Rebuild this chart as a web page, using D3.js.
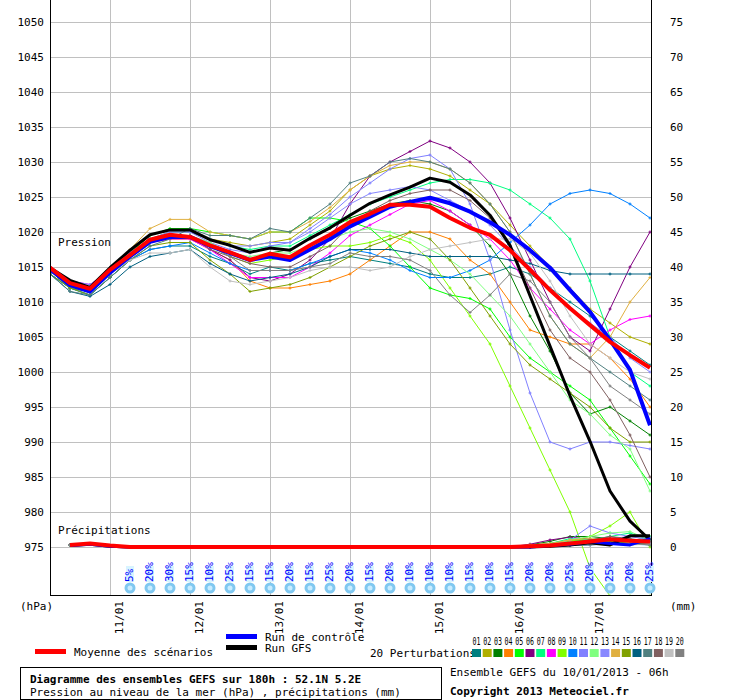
<!DOCTYPE html>
<html><head><meta charset="utf-8">
<script src="https://cdn.jsdelivr.net/npm/d3@7"></script>
<style>
body{margin:0;background:#fff}
text{font-family:"DejaVu Sans Mono",monospace;font-size:11px}
</style></head><body>
<script>
// 31 steps of 6h, from 10/01 06h to 17/01 18h
var dayTicks = ["11/01","12/01","13/01","14/01","15/01","16/01","17/01"];
var dayIndex = [3,7,11,15,19,23,27];

var meanP = [1014.9,1012.7,1011.9,1014.6,1016.7,1018.9,1019.6,1019.3,1018.1,1017.1,1016,1016.9,1016.4,1018.1,1019.6,1021.4,1022.6,1023.9,1023.9,1023.6,1022,1020.6,1019.6,1017.4,1014.6,1011.7,1009.1,1006.7,1004.3,1002.4,1000.6];
var ctrlP = [1014.7,1012.4,1011.5,1014.2,1016.5,1018.6,1019.3,1019.3,1018,1017,1016,1016.5,1016,1017.5,1019,1020.8,1022.2,1023.6,1024.3,1024.9,1024.1,1022.9,1021.4,1019.6,1017.4,1014.9,1011.7,1008.6,1004.6,1000.3,992.4];
var gfsP = [1014.9,1013.1,1012.1,1014.9,1017.4,1019.6,1020.3,1020.3,1018.9,1018.1,1017.1,1017.7,1017.4,1019.1,1020.6,1022.4,1024.1,1025.3,1026.4,1027.7,1027.1,1025.3,1022.4,1018.1,1010.9,1003.7,996.6,990.1,983,978.7,976];
var meanR = [null,0.3,0.5,0.2,0,0,0,0,0,0,0,0,0,0,0,0,0,0,0,0,0,0,0,0,0.1,0.2,0.5,0.8,1.1,0.9,0.8];
var ctrlR = [null,0.2,0.4,0.1,0,0,0,0,0,0,0,0,0,0,0,0,0,0,0,0,0,0,0,0,0,0.2,0.4,0.8,0.5,0.3,1.2];
var gfsR  = [null,0.2,0.4,0.1,0,0,0,0,0,0,0,0,0,0,0,0,0,0,0,0,0,0,0,0,0,0.1,0.3,0.6,0.3,1.6,1.6];

var pertColors = ["#008080","#b0b000","#008000","#ff8000","#00ff00","#800080","#00ff80","#ff00ff","#80ff00","#0080ff",
                  "#8080ff","#80ff80","#8888ff","#e0b040","#80a000","#006080","#508080","#806060","#c0c0c0","#808080"];
var pertP = [
 [1014,1012,1011,1013.5,1016,1017.5,1018,1018,1016.5,1015.5,1014, 1015,1014.5,1015.5,1016,1016.5, 1016,1015.5,1015,1014, 1013.5,1013.5,1014,1015, 1014,1012,1010,1008,1005,1003,1001],
 [1014.5,1012.5,1012,1014,1017,1019,1020,1020,1019,1018.5,1018, 1018.5,1019,1021,1023,1026, 1028,1029,1029.5,1029, 1028,1026,1024,1021, 1018,1015,1012,1009,1007,1005,1004],
 [1014.5,1012,1011.5,1014,1016.5,1018.5,1019.5,1019.5,1018,1017,1016, 1017,1017.5,1019,1020.5,1022, 1023,1024,1024.5,1024, 1023,1021,1018,1014, 1008,1003,997,994,995,993,991],
 [1014.5,1012.5,1011.5,1014,1016.5,1018.5,1019,1019,1017.5,1016,1013, 1012,1012,1012.5,1013,1014, 1016,1018,1020,1020, 1019,1016,1014,1010, 1006,1005,1004,1004,1002,999,995],
 [1015,1012.5,1012,1014.5,1017,1019.5,1020.5,1020.5,1020,1019.5,1019, 1020,1020,1022,1022,1021.5, 1020.5,1018,1015,1012, 1011,1010.5,1009,1005, 1002,1000,998,996,992,988,984],
 [1014.5,1012,1011.5,1014,1016.5,1018.5,1019.5,1019.5,1017.5,1016,1013.5, 1013,1014,1016,1019,1024, 1028,1030,1031.5,1033, 1032,1030,1027,1022, 1016,1010,1005,1003,1009,1015,1020],
 [1014.5,1012.5,1012,1014.5,1017,1019,1020,1020,1019,1018,1017.5, 1018,1018,1019.5,1021,1022.5, 1024,1025,1026,1027, 1027.5,1027.5,1027,1026, 1024,1022,1019,1013,1005,1000,998],
 [1015,1013,1012.5,1014.5,1017,1018.5,1019,1019,1017.5,1015.5,1013.5, 1013.5,1013.5,1015,1017,1019.5, 1021,1022.5,1024,1024.5, 1023,1021,1019,1016, 1012,1009,1006,1004,1006,1007.5,1008],
 [1014.5,1012,1011.5,1014,1016.5,1018.5,1019.5,1019.5,1018,1016.5,1015.5, 1016,1016.5,1017.5,1018,1018, 1018.5,1019.5,1018.5,1016, 1012,1008,1004,998, 992,986,980,972,968,968,968],
 [1014,1012,1011,1013.5,1016,1017.5,1018,1018.5,1017,1015.5,1014.5, 1014.5,1014.5,1015.5,1016.5,1017.5, 1017,1016,1014.5,1013.5, 1013.5,1014.5,1016,1018.5, 1021,1024,1025.5,1026,1025.5,1024,1022],
 [1015,1013,1012.5,1014.5,1017,1019,1020,1020,1018.5,1017.5,1017, 1018,1018.5,1020.5,1022.5,1025, 1027,1029,1030.5,1031, 1029,1024,1016,1006, 997,990,989,990,990,989.5,989],
 [1014.5,1012.5,1012,1014,1016.5,1018.5,1019.5,1019.5,1018.5,1017,1016.5, 1017,1017,1018,1019,1020, 1020.5,1020,1019,1017.5, 1016,1014,1011,1008, 1004,1000,996,994,991,989,983],
 [1014.5,1012.5,1012,1014,1017,1019,1020,1020,1019,1018,1018, 1018.5,1018.5,1020,1022,1024, 1025.5,1026,1026.5,1026, 1024.5,1023,1021,1018, 1015,1012,1009,1007,1005,1002,1000],
 [1014.5,1012.5,1012,1014.5,1017.5,1020.5,1021.8,1021.8,1020,1019.5,1019, 1020,1020,1021.5,1023.5,1026, 1028,1029.5,1030,1030, 1029,1027,1024,1020, 1014,1008,1004,1002,1005,1010,1013.5],
 [1014,1012,1011,1013.5,1016,1018,1018.5,1018.5,1016,1014,1011.5, 1012,1012.5,1013.5,1015,1016.5, 1018,1019,1020,1019, 1016,1012,1008,1004, 1001,999,997,995,992,990,990],
 [1014,1011.5,1010.8,1012.5,1015,1016.5,1017,1017.5,1015.5,1014,1013, 1013.5,1014,1015,1016.5,1017.5, 1017.5,1017.5,1017,1016.5, 1016.5,1016.5,1016.5,1016, 1015.5,1014.5,1014,1014,1014,1014,1014],
 [1014,1011.5,1011,1013.5,1016,1018,1019,1020.5,1019.5,1019.5,1019, 1020.5,1020,1022,1024,1027, 1028,1030,1030.5,1030, 1029,1027,1024,1020, 1014,1008,1004,1002,1000,998,996],
 [1014.5,1012.5,1012,1014,1016.5,1018.5,1019.5,1019.5,1017.5,1016.5,1015.5, 1015,1015,1016.5,1018,1021, 1023,1024.5,1025.5,1026, 1026,1024.5,1022,1018, 1012,1006,1002,1000,996,991,985],
 [1014.5,1012.5,1012,1014,1016,1017,1017,1017.5,1015,1013,1012.5, 1013,1013.5,1014.5,1015,1015, 1014.5,1015,1016.5,1017.5, 1018,1018.5,1019,1019, 1017,1013,1008,1004,1002,1000,999],
 [1014.5,1012.5,1012,1014,1016.5,1018.5,1019.5,1019.5,1018,1016.5,1014.5, 1014.5,1014.5,1015,1015.5,1017, 1016.5,1016.5,1016,1014.5, 1011,1008.5,1011,1014, 1013,1010,1005,1002,998,996,994]
];
// precipitation (mm), only the last 8 steps differ from zero
var pertRTail = [
 [0,0,0.3,0.5,1,0.8,0.5,0.6],[0,0.2,0.5,1,0.6,0.4,0.3,0.5],[0,0.3,0.8,1.5,1.5,1.2,0.8,1],[0,0,0.2,0.5,0.4,0.3,0.6,0.5],
 [0,0.1,0.4,0.8,1,0.6,0.8,1.5],[0,0.4,1,1.4,1.1,0.6,0.5,0.8],[0,0.2,0.5,1.2,1,1.5,2,1],[0,0.1,0.3,0.6,0.8,1,0.8,0.5],
 [0,0.1,0.3,0.8,1.5,3,5,-2],[0,0,0.1,0.2,0.3,0.5,0.4,0.3],[0,0,0.3,1,3,2,1.5,1],[0,0.2,0.4,1,1.5,2,2.2,1],
 [0,0,0.3,0.7,0.8,1.2,1.5,1.4],[0,0.3,0.5,1,1.2,1,0.6,0.4],[0,0.1,0.2,0.4,0.6,0.8,0.5,0.3],[0,0,0.1,0.3,0.5,0.6,0.5,0.4],
 [0,0,0.2,0.5,0.8,1.5,1,0.9],[0,0.1,0.2,0.5,1,1.5,1.2,0.8],[0,0,0.1,0.3,0.4,0.5,0.3,0.4],[0,0,0.1,0.2,0.3,0.4,0.5,0.3]
];
var dryPrefix = [null,0.3,0.5,0.2,0,0,0,0,0,0,0,0,0,0,0,0,0,0,0,0,0,0,0];
var snowPct = [5,20,30,15,10,25,15,15,20,15,25,20,15,20,10,10,10,15,10,15,20,20,25,20,25,20,25];

var svg = d3.select("body").append("svg").attr("width",740).attr("height",700);

var x = d3.scaleLinear().domain([0,30]).range([50,650]);
var yP = d3.scaleLinear().domain([975,1050]).range([547,22]);
var yR = d3.scaleLinear().domain([0,75]).range([547,22]);

// grid
var grid = svg.append("g").attr("stroke","#c0c0c0").attr("stroke-width",1);
d3.range(975,1051,5).forEach(function(v){
  grid.append("line").attr("x1",50).attr("x2",652).attr("y1",yP(v)+0.5).attr("y2",yP(v)+0.5);
});
dayIndex.forEach(function(i){
  grid.append("line").attr("x1",x(i)+0.5).attr("x2",x(i)+0.5).attr("y1",0).attr("y2",596);
});

// axes labels
var yAxisL = d3.axisLeft(yP).tickValues(d3.range(975,1051,5)).tickFormat(d3.format("d")).tickSize(0).tickPadding(6);
var gl = svg.append("g").attr("transform","translate(50,0)").call(yAxisL);
var yAxisR = d3.axisRight(yR).tickValues(d3.range(0,76,5)).tickFormat(d3.format("d")).tickSize(0).tickPadding(18);
var gr = svg.append("g").attr("transform","translate(652,0)").call(yAxisR);
[gl,gr].forEach(function(g){
  g.select(".domain").remove();
  g.selectAll("text").attr("font-family","DejaVu Sans Mono").attr("font-size",11).attr("fill","#000");
});

svg.append("defs").append("clipPath").attr("id","clip").append("rect").attr("x",50).attr("y",0).attr("width",602).attr("height",596);
var plot = svg.append("g").attr("clip-path","url(#clip)");

var lineP = d3.line().defined(function(d){return d!=null;}).x(function(d,i){return x(i);}).y(function(d){return yP(d);});
var lineR = d3.line().defined(function(d){return d!=null;}).x(function(d,i){return x(i);}).y(function(d){return yR(Math.max(0,d));});

function thin(data, color, line, yS){
  plot.append("path").datum(data).attr("d",line).attr("fill","none").attr("stroke",color).attr("stroke-width",1);
  plot.selectAll(null).data(data.map(function(d,i){return [i,d];}).filter(function(p){return p[1]!=null;}))
    .enter().append("path")
    .attr("d",function(p){var cx=x(p[0]),cy=yS(Math.max(0,p[1]));return "M"+(cx-1.5)+","+cy+"h3M"+cx+","+(cy-1.5)+"v3";})
    .attr("stroke",color).attr("stroke-width",1);
}
pertP.forEach(function(s,k){ thin(s,pertColors[k],lineP,yP); });
pertRTail.forEach(function(t,k){ thin(dryPrefix.concat(t),pertColors[k],lineR,yR); });

function thick(data,color,w,line){
  plot.append("path").datum(data).attr("d",line).attr("fill","none").attr("stroke",color).attr("stroke-width",w).attr("stroke-linejoin","round");
}
thick(gfsP,"#000",3,lineP); thick(ctrlP,"#0000ff",4,lineP); thick(meanP,"#ff0000",4,lineP);
thick(gfsR,"#000",3,lineR); thick(ctrlR,"#0000ff",3,lineR); thick(meanR,"#ff0000",4,lineR);

// frame
svg.append("line").attr("x1",50.5).attr("x2",50.5).attr("y1",0).attr("y2",596).attr("stroke","#000");
svg.append("line").attr("x1",651.5).attr("x2",651.5).attr("y1",0).attr("y2",596).attr("stroke","#000");
svg.append("line").attr("x1",50).attr("x2",652).attr("y1",595.5).attr("y2",595.5).attr("stroke","#000");

svg.append("text").attr("x",58).attr("y",246).text("Pression");
svg.append("text").attr("x",58).attr("y",534).text("Précipitations");

// snow icons
var snow = svg.append("g").selectAll("g").data(snowPct).enter().append("g")
  .attr("transform",function(d,i){return "translate("+x(4+i)+",0)";});
snow.append("rect").attr("x",-4).attr("y",566).attr("width",8).attr("height",16).attr("fill","#d8f4ff");
snow.append("text").attr("transform","translate(3,582) rotate(-90)").attr("font-size",8).attr("fill","#0000ff").text(function(d){return d+"%";});
snow.append("circle").attr("cx",0).attr("cy",588).attr("r",5.5).attr("fill","#80c8f0");
snow.append("circle").attr("cx",0).attr("cy",588).attr("r",2.5).attr("fill","#c8ecff");

// date labels
svg.selectAll(".day").data(dayTicks).enter().append("text")
  .attr("transform",function(d,i){return "translate("+(x(dayIndex[i])+13)+",601) rotate(-90)";})
  .attr("text-anchor","end").attr("font-size",12).text(function(d){return d;});
svg.append("text").attr("x",20).attr("y",610).text("(hPa)");
svg.append("text").attr("x",670).attr("y",610).text("(mm)");

// legend
svg.append("rect").attr("x",35).attr("y",649).attr("width",31).attr("height",5).attr("fill","#ff0000");
svg.append("text").attr("x",74).attr("y",656).text("Moyenne des scénarios");
svg.append("rect").attr("x",226).attr("y",634).attr("width",31).attr("height",5).attr("fill","#0000ff");
svg.append("text").attr("x",265).attr("y",641).text("Run de contrôle");
svg.append("rect").attr("x",226).attr("y",645).attr("width",31).attr("height",5).attr("fill","#000");
svg.append("text").attr("x",265).attr("y",652).text("Run GFS");
svg.append("text").attr("x",370).attr("y",657).text("20 Perturbations");
var sw = svg.append("g").selectAll("g").data(pertColors).enter().append("g")
  .attr("transform",function(d,i){return "translate("+(472+i*10.7)+",0)";});
sw.append("rect").attr("x",0).attr("y",649).attr("width",9).attr("height",8).attr("fill",function(d){return d;});
sw.append("text").attr("x",0.5).attr("y",645).attr("font-size",6.5).attr("textLength",8).attr("lengthAdjust","spacingAndGlyphs")
  .text(function(d,i){return (i<9?"0":"")+(i+1);});

svg.append("rect").attr("x",20.5).attr("y",667.5).attr("width",421).attr("height",32).attr("fill","none").attr("stroke","#000");
svg.append("text").attr("x",30).attr("y",683).attr("font-weight","bold").attr("font-size",12).text("Diagramme des ensembles GEFS sur 180h : 52.1N 5.2E");
svg.append("text").attr("x",30).attr("y",696).attr("font-size",10.5).text("Pression au niveau de la mer (hPa) , précipitations (mm)");
svg.append("text").attr("x",450).attr("y",676).text("Ensemble GEFS du 10/01/2013 - 06h");
svg.append("text").attr("x",450).attr("y",695).attr("font-weight","bold").attr("font-size",12).text("Copyright 2013 Meteociel.fr");
</script></body></html>
